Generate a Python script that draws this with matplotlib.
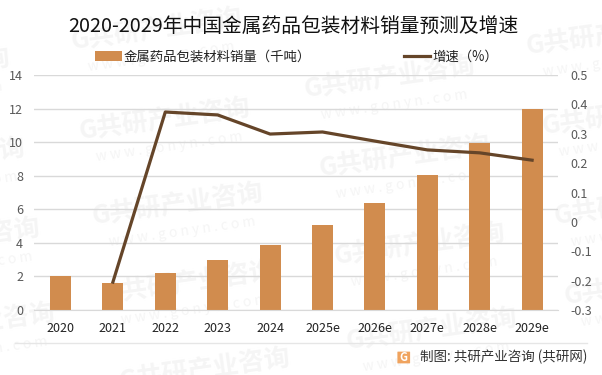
import matplotlib
matplotlib.use('Agg')
import matplotlib.pyplot as plt
from matplotlib.patches import FancyBboxPatch

plt.rcParams['font.family'] = ['Noto Sans CJK SC', 'DejaVu Sans']

years = ['2020', '2021', '2022', '2023', '2024', '2025e', '2026e', '2027e', '2028e', '2029e']
sales = [2.0, 1.58, 2.2, 3.0, 3.9, 5.05, 6.4, 8.05, 9.95, 12.0]
growth = [None, -0.205, 0.374, 0.364, 0.299, 0.306, 0.275, 0.245, 0.235, 0.21]
left_ticks = [0, 2, 4, 6, 8, 10, 12, 14]
right_ticks = [-0.3, -0.2, -0.1, 0, 0.1, 0.2, 0.3, 0.4, 0.5]
right_labels = ['-0.3', '-0.2', '-0.1', '0', '0.1', '0.2', '0.3', '0.4', '0.5']

W, H = 602, 375
fig = plt.figure(figsize=(W / 100, H / 100), dpi=100)

# 水印
marks = [(157, 30), (165, 120), (178, 205), (190, 283), (205, 370),
         (390, 78), (405, 157), (420, 245), (432, 330),
         (612, 35), (628, 115), (640, 205), (650, 285),
         (-75, 70), (-60, 160), (-45, 240), (-30, 325)]
for mx, my in marks:
    fig.text(mx / W, 1 - my / H, 'G共研产业咨询', fontsize=18.5, fontweight='bold', color='#f5f5f5',
             rotation=8, ha='center', va='center', zorder=-1)
    fig.text((mx + 4) / W, 1 - (my + 27) / H, 'w w w . g o n y n . c o m', fontsize=10, color='#f5f5f5',
             rotation=8, ha='center', va='center', zorder=-1)

ax = fig.add_axes([34.3 / W, 1 - 310 / H, (558.3 - 34.3) / W, 235 / H])
ax.patch.set_alpha(0)
x = list(range(len(years)))
bars = ax.bar(x, sales, width=0.4, color='#d18c4e', zorder=2, label='金属药品包装材料销量（千吨）')
ax.set_xlim(-0.5, 9.5)
ax.set_ylim(0, 14)
ax.set_yticks(left_ticks)
ax.set_xticks(x)
ax.set_xticklabels(years)
ax.tick_params(axis='x', length=0, pad=9, labelsize=9, labelcolor='#222222')
ax.tick_params(axis='y', length=0, pad=8, labelsize=9, labelcolor='#595959')
ax.grid(axis='y', color='#d9d9d9', lw=1, zorder=1)
ax.set_axisbelow(True)
for s in ['top', 'left', 'right']:
    ax.spines[s].set_visible(False)
ax.spines['bottom'].set_color('#d9d9d9')

ax2 = ax.twinx()
ax2.patch.set_alpha(0)
line, = ax2.plot(x[1:], growth[1:], color='#654529', lw=2.3, zorder=3, label='增速（%）')
ax2.set_ylim(-0.3, 0.5)
ax2.set_yticks(right_ticks)
ax2.set_yticklabels(right_labels)
ax2.tick_params(axis='y', length=0, pad=9, labelsize=9, labelcolor='#595959')
for s in ax2.spines.values():
    s.set_visible(False)

fig.text(293.5 / W, 1 - 26 / H, '2020-2029年中国金属药品包装材料销量预测及增速', fontsize=14.2,
         color='#111111', ha='center', va='center')

fig.legend([bars, line], [bars.get_label(), line.get_label()], loc='center left',
           bbox_to_anchor=(95 / W, 1 - 56.5 / H), ncol=2, frameon=False, fontsize=9.65,
           borderaxespad=0, borderpad=0, columnspacing=6.9, handlelength=2.0,
           handletextpad=0.15, labelcolor='#222222')

# 底部
fig.add_artist(plt.Line2D([15 / W, 587 / W], [1 - 342.5 / H] * 2, color='#e6e6e6', lw=1))
fig.add_artist(FancyBboxPatch((398 / W, 1 - 363 / H), 11.5 / W, 11 / H, boxstyle='round,pad=0.001',
                              transform=fig.transFigure, fc='#f0a35e', ec='none'))
fig.text(403.8 / W, 1 - 357.5 / H, 'G', fontsize=8, fontweight='bold', color='white', ha='center', va='center')
fig.text(420 / W, 1 - 357 / H, '制图: 共研产业咨询 (共研网)', fontsize=9.75, color='#333333',
         ha='left', va='center')

fig.savefig('out.png', dpi=100)
